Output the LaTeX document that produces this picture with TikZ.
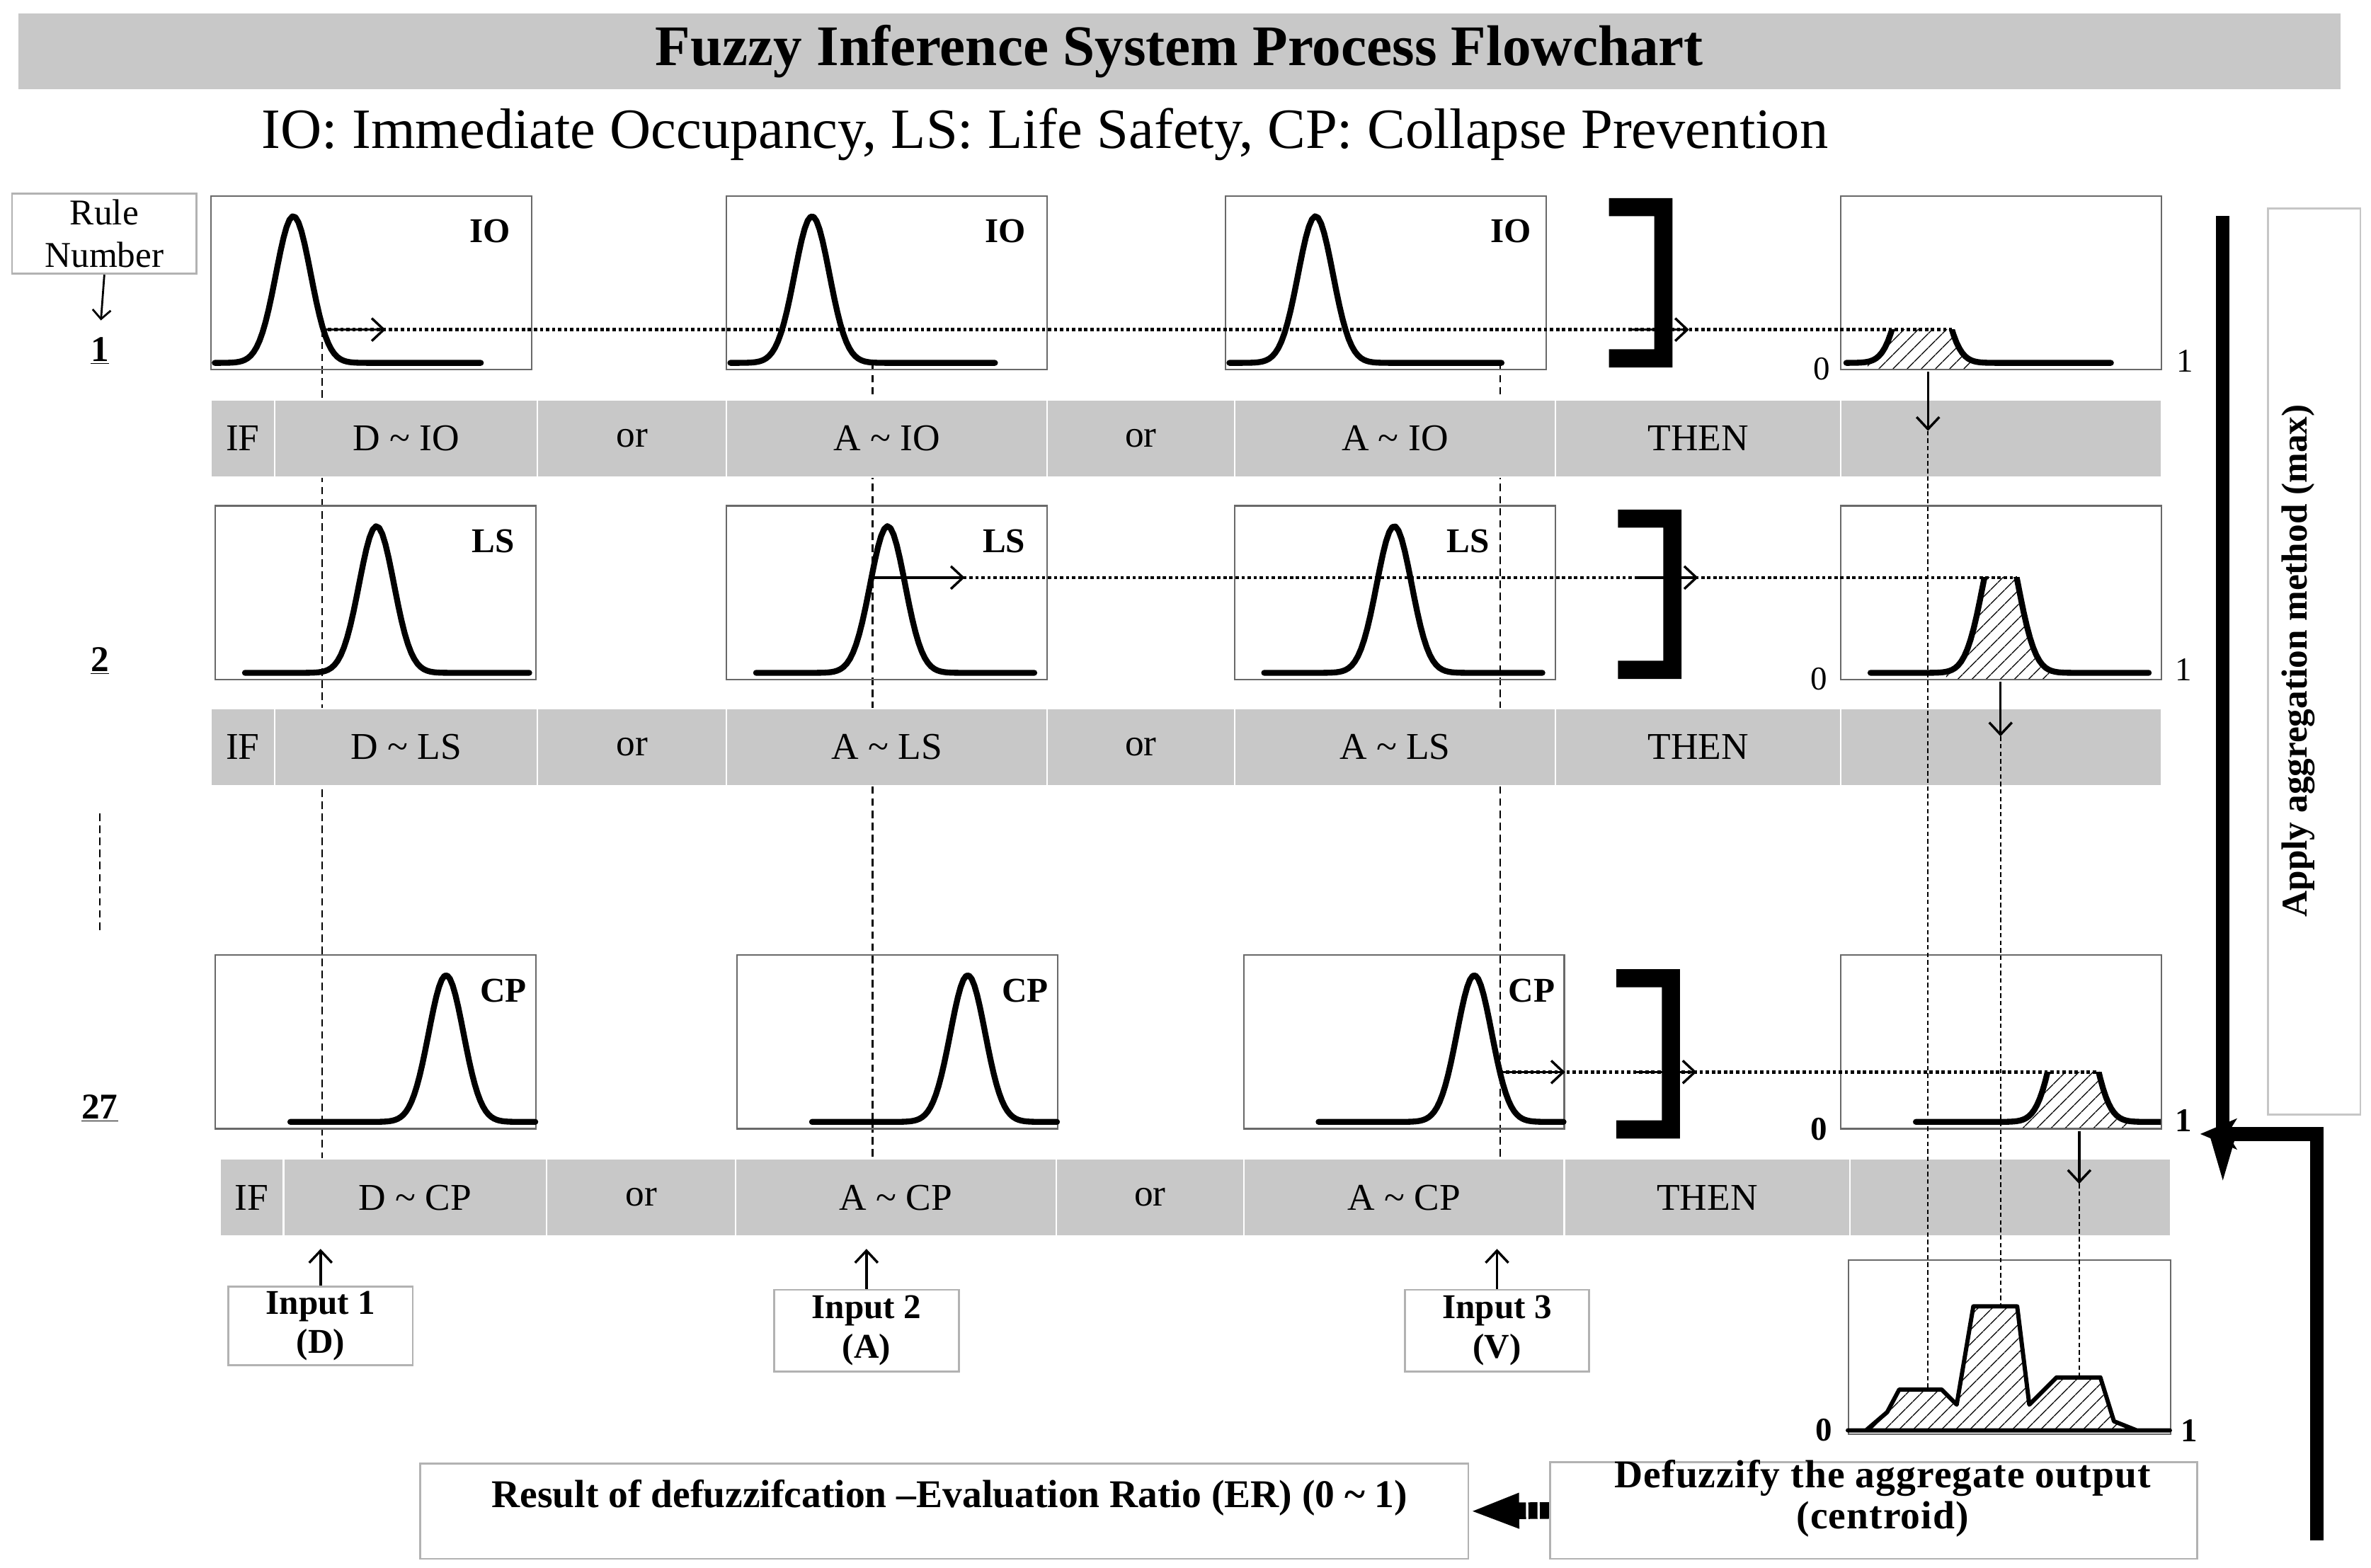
\documentclass[tikz,border=0pt]{standalone}
\usepackage{fontspec}
\setmainfont{Liberation Serif}
\usetikzlibrary{arrows.meta,patterns.meta,backgrounds}

\definecolor{barGray}{RGB}{200,200,200}
\definecolor{frameGray}{RGB}{105,105,105}

\tikzset{
  graphbox/.style={draw=frameGray, line width=1pt, minimum width=212pt, minimum height=115pt, inner sep=0pt, anchor=north west},
  barcell/.style={fill=barGray, draw=white, line width=1pt, minimum height=51pt, inner sep=0pt, anchor=north west, font=\fontsize{25}{28}\selectfont},
  mfline/.style={line width=3.9pt, line cap=round, line join=round},
  mflabel/.style={font=\fontsize{23}{26}\selectfont\bfseries, inner sep=0pt},
  cutline/.style={line width=2.2pt, dash pattern=on 2.2pt off 1.8pt},
  guide/.style={line width=1.1pt, dash pattern=on 5pt off 3pt},
  outguide/.style={line width=1.1pt, dash pattern=on 3pt off 2pt},
  thinarrow/.style={line width=1.6pt, -{Straight Barb[length=8pt,width=15pt]}},
  hatch/.style={pattern={Lines[angle=45,distance=6.5pt,line width=0.7pt]}},
  greybox/.style={draw=gray!60, line width=1.3pt, inner sep=0pt},
  axisnum/.style={font=\fontsize{22}{24}\selectfont, inner sep=0pt},
  bigarrow/.style={line width=9pt},
}

% membership curve in a graph box: box, peak offset, flat start, flat end
\newcommand{\mfcurve}[4]{%
  \begin{scope}[shift={(#1.north west)}]
    \draw[mfline] plot[domain=#3:#4, samples=90] (\x, {-111+97*exp(max(-9,-0.5*((\x-#2)/11.5)^2))});
  \end{scope}}

% clipped output curve: box, peak offset, flat start, flat end, cut depth
\newcommand{\mfcut}[5]{%
  \begin{scope}[shift={(#1.north west)}]
    \clip (0,-#5) rectangle (212,-118);
    \pgfmathsetmacro\lo{#2-36}\pgfmathsetmacro\hi{#2+36}
    \fill[hatch] plot[domain=\lo:\hi, samples=60] (\x, {-111+97*exp(max(-9,-0.5*((\x-#2)/11.5)^2))}) -- (\hi,-115) -- (\lo,-115) -- cycle;
    \draw[mfline] plot[domain=#3:#4, samples=90] (\x, {-111+97*exp(max(-9,-0.5*((\x-#2)/11.5)^2))});
  \end{scope}}

% thick bracket: left x, top y
\newcommand{\bracketat}[2]{%
  \fill (#1,-#2) -- (#1+42,-#2) -- (#1+42,-#2-112) -- (#1,-#2-112) -- (#1,-#2-100)
    -- (#1+30,-#2-100) -- (#1+30,-#2-12) -- (#1,-#2-12) -- cycle;}

\begin{document}
\begin{tikzpicture}[x=1pt,y=1pt]
\useasboundingbox (0,0) rectangle (1568,-1037);

% Title and legend
\node[fill=barGray, minimum width=1536pt, minimum height=50pt, inner sep=0pt,
      font=\fontsize{38}{40}\selectfont\bfseries] (title) at (780,-34) {Fuzzy Inference System Process Flowchart};
\node[anchor=base, inner sep=0pt, font=\fontsize{37.7}{40}\selectfont] (legend) at (691,-98)
  {IO: Immediate Occupancy, LS: Life Safety, CP: Collapse Prevention};

% Rule numbers
\node[greybox, minimum width=122pt, minimum height=53pt, align=center, font=\fontsize{24}{28}\selectfont] (rule) at (69,-154.5) {Rule\\Number};
\node[font=\fontsize{24}{26}\selectfont\bfseries, inner sep=1pt] (n1) at (66,-232) {\underline{1}};
\node[font=\fontsize{24}{26}\selectfont\bfseries, inner sep=1pt] (n2) at (66,-437) {\underline{2}};
\node[font=\fontsize{24}{26}\selectfont\bfseries, inner sep=1pt] (n27) at (66,-733) {\underline{27}};
\draw[line width=1.3pt, -{Straight Barb[length=6pt,width=12pt]}, shorten >=10pt] (rule.south) -- (n1.north);
\draw[guide] (66,-538) -- (66,-617);

% Rule bars
\foreach \rw/\bx/\by/\st in {1/139/264/IO, 2/139/468/LS, 3/145/766/CP}{
  \foreach \cell/\off/\cw/\txt in {if/0/42/IF, d/42/174/D \textasciitilde{} \st, or/216/125/or,
      a/341/212/A \textasciitilde{} \st, orr/553/124/or, v/677/212/A \textasciitilde{} \st,
      then/889/189/THEN, out/1078/212/{}}
    \node[barcell, minimum width=\cw pt] (b\rw-\cell) at (\bx+\off,-\by) {\txt};
}

% Graph boxes
\foreach \nm/\x/\y in {r1d/139/129, r1a/480/129, r1v/810/129, r1o/1217/129,
                      r2d/142/334, r2a/480/334, r2v/816/334, r2o/1217/334,
                      r3d/142/631, r3a/487/631, r3v/822/631, r3o/1217/631}
  \node[graphbox] (\nm) at (\x,-\y) {};

% Membership functions
\foreach \bx/\pk/\fa/\fb in {r1d/55/3/179, r1a/57/3/178, r1v/60/3/183,
                             r2d/107/20/208, r2a/107/20/204, r2v/106/20/204,
                             r3d/153/50/212, r3a/153/50/212, r3v/153/50/212}
  \mfcurve{\bx}{\pk}{\fa}{\fb};

\foreach \bx/\lab/\dx in {r1d/IO/28, r1a/IO/28, r1v/IO/24, r2d/LS/29, r2a/LS/29, r2v/LS/58,
                          r3d/CP/22, r3a/CP/22, r3v/CP/22}
  \node[mflabel] (\bx-lab) at ([xshift=-\dx pt,yshift=-24pt]\bx.north east) {\lab};

% Firing points and guides
\coordinate (k1) at (213,-218);
\coordinate (k2) at (577,-382);
\coordinate (k3) at (992,-709);
\coordinate (g2) at (577,-240);
\coordinate (g3) at (992,-240);
\begin{scope}[on background layer]
  \draw[guide] (k1) -- (k1 |- b3-d.north);
  \draw[guide] (g2) -- (g2 |- b3-a.north);
  \draw[guide] (g3) -- (g3 |- b3-v.north);
\end{scope}

% Brackets
\bracketat{1064}{131}
\bracketat{1070}{337}
\bracketat{1069}{641}
\coordinate (br1) at (1100,-218);
\coordinate (br2) at (1106,-382);
\coordinate (br3) at (1105,-709);

% Implication results
\mfcut{r1o}{54}{4}{179}{89}
\mfcut{r2o}{106}{20}{204}{48}
\mfcut{r3o}{154}{50}{212}{78}
\coordinate (t1) at (1291,-218);
\coordinate (t2) at (1334,-382);
\coordinate (t3) at (1388,-709);

\draw[cutline] (k1) -- (t1);
\draw[cutline] (k2) -- (t2);
\draw[cutline] (k3) -- (t3);
\draw[thinarrow] (k1) -- ([xshift=42pt]k1);
\draw[thinarrow] (k2) -- ([xshift=61pt]k2);
\draw[thinarrow] (k3) -- ([xshift=43pt]k3);
\foreach \br in {br1,br2,br3}
  \draw[thinarrow] ([xshift=-23pt]\br) -- ([xshift=17pt]\br);

% Axis numbers
\node[axisnum] (z1) at (1205,-244) {0};
\node[axisnum] (u1) at (1445,-239) {1};
\node[axisnum] (z2) at (1203,-449) {0};
\node[axisnum] (u2) at (1444,-443) {1};
\node[axisnum, font=\fontsize{22}{24}\selectfont\bfseries] (z3) at (1203,-747) {0};
\node[axisnum, font=\fontsize{22}{24}\selectfont\bfseries] (u3) at (1444,-741) {1};

% Aggregated output
\node[graphbox, minimum width=213pt] (agg) at (1222,-833) {};
\coordinate (p1) at (1275,-919);
\coordinate (p2) at (1323,-864);
\coordinate (p3) at (1375,-911);
\draw[line width=2.8pt, line join=round, hatch] (1222,-946) -- (1234,-946) -- (1248,-934) -- (1256,-919)
  -- (1284,-919) -- (1294,-929) -- (1305,-864) -- (1334,-864) -- (1342,-929) -- (1360,-911)
  -- (1389,-911) -- (1398,-940) -- (1413,-946) -- (1435,-946) -- cycle;
\node[axisnum, font=\fontsize{22}{24}\selectfont\bfseries] (z4) at (1206,-946) {0};
\node[axisnum, font=\fontsize{22}{24}\selectfont\bfseries] (u4) at (1448,-946) {1};

% Output guides
\coordinate (d1) at (1275,-246); \coordinate (e1) at (1275,-285);
\coordinate (d2) at (1323,-451); \coordinate (e2) at (1323,-487);
\coordinate (d3) at (1375,-748); \coordinate (e3) at (1375,-783);
\foreach \i in {1,2,3}{
  \draw[thinarrow] (d\i) -- (e\i);
  \draw[outguide] (e\i) -- (p\i);
}

% Inputs
\node[greybox, minimum width=122pt, minimum height=52pt, align=center, font=\fontsize{23}{26}\selectfont\bfseries] (in1) at (212,-877) {Input 1\\(D)};
\node[greybox, minimum width=122pt, minimum height=54pt, align=center, font=\fontsize{23}{26}\selectfont\bfseries] (in2) at (573,-880) {Input 2\\(A)};
\node[greybox, minimum width=122pt, minimum height=54pt, align=center, font=\fontsize{23}{26}\selectfont\bfseries] (in3) at (990,-880) {Input 3\\(V)};
\draw[thinarrow, shorten >=8pt] (in1.north) -- (in1.north |- b3-d.south);
\draw[thinarrow, shorten >=8pt] (in2.north) -- (in2.north |- b3-a.south);
\draw[thinarrow, shorten >=8pt] (in3.north) -- (in3.north |- b3-v.south);

% Defuzzification
\node[greybox, minimum width=693pt, minimum height=63pt] (result) at (624.5,-999.5) {};
\node[anchor=base, inner sep=0pt, font=\fontsize{26}{28}\selectfont\bfseries] (resulttext) at (628,-997)
  {Result of defuzzifcation –Evaluation Ratio (ER) (0 \textasciitilde{} 1)};
\node[greybox, minimum width=428pt, minimum height=64pt] (defuz) at (1239,-999) {};
\node[align=center, inner sep=0pt, font=\fontsize{26}{27}\selectfont\bfseries\addfontfeature{LetterSpace=2}] (defuztext) at (1245,-991)
  {Defuzzify the aggregate output\\(centroid)};
\draw[line width=11pt, dash pattern=on 6pt off 1.6pt, -{Triangle[length=33pt,width=21pt]}] (defuz.west) -- (result.east);

% Aggregation
\node[greybox, draw=gray!45, minimum width=61pt, minimum height=599pt] (apply) at (1530.5,-437.5) {};
\node[rotate=90, inner sep=0pt, font=\fontsize{24}{26}\selectfont\bfseries] (applytext) at (1520,-437) {Apply aggregation method (max)};
\coordinate (aggtop) at (1470,-143);
\coordinate (aggtip) at (1470,-781);
\coordinate (fbstart) at (1532,-1019);
\coordinate (fbtip) at (1455,-750);
\draw[bigarrow, -{Stealth[length=30pt,width=17pt,inset=8pt]}] (aggtop) -- (aggtip);
\draw[bigarrow, -{Stealth[length=24pt,width=20pt,inset=6pt]}] (fbstart) |- (fbtip);
\end{tikzpicture}
\end{document}
